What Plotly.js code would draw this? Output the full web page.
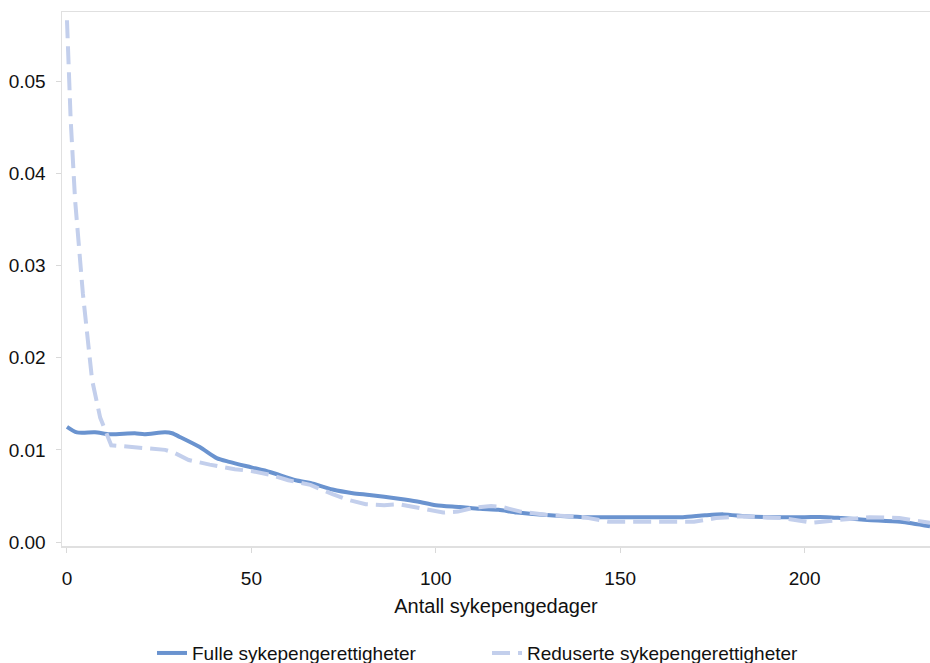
<!DOCTYPE html>
<html>
<head>
<meta charset="utf-8">
<script src="https://cdn.plot.ly/plotly-3.0.1.min.js"></script>
<style>html,body{margin:0;padding:0;background:#fff;}#chart{width:930px;height:663px;}</style>
</head>
<body>
<div id="chart"></div>
<script>
const seriesNames = ["Fulle sykepengerettigheter", "Reduserte sykepengerettigheter"];
const fullDays = [0, 2.7, 7.6, 11.7, 18.4, 21, 26.6, 28.5, 30.6, 36, 40.6, 44, 50, 55, 62, 66, 72, 77.5, 82, 90, 95, 100, 106.5, 112, 117, 122, 131, 140, 150, 161, 167, 173, 178, 184, 190, 200, 206, 210, 217, 226, 234];
const fullValues = [0.0125, 0.0119, 0.0119, 0.0117, 0.0118, 0.0117, 0.0119, 0.0118, 0.0114, 0.0103, 0.0091, 0.0087, 0.0081, 0.0076, 0.0067, 0.0064, 0.0057, 0.0053, 0.0051, 0.0047, 0.0044, 0.0040, 0.0038, 0.0036, 0.0035, 0.0032, 0.0029, 0.0027, 0.0027, 0.0027, 0.0027, 0.0029, 0.0030, 0.0028, 0.0027, 0.0027, 0.0027, 0.0026, 0.0024, 0.0022, 0.0017];
const redDays = [0, 1, 2.2, 4.3, 6.8, 9, 12, 15.7, 22.5, 26.6, 29, 33, 38.7, 45.5, 50, 55, 60, 66, 72, 76, 81, 86, 90, 95, 102, 106, 110, 115, 118, 123, 131, 140, 147, 153, 170, 176, 183, 194, 202, 209.5, 217.6, 225.7, 234];
const redValues = [0.0566, 0.0458, 0.0371, 0.027, 0.0176, 0.0135, 0.0105, 0.0104, 0.0102, 0.0100, 0.0097, 0.0089, 0.0084, 0.0079, 0.0077, 0.0073, 0.0067, 0.0062, 0.0052, 0.0046, 0.0041, 0.0040, 0.0041, 0.0037, 0.0032, 0.0033, 0.0037, 0.0039, 0.0038, 0.0033, 0.0029, 0.0027, 0.0022, 0.0022, 0.0022, 0.0026, 0.0028, 0.0026, 0.0021, 0.0024, 0.0027, 0.0026, 0.0021];
const xTicks = [0, 50, 100, 150, 200];
const yTicks = [0, 0.01, 0.02, 0.03, 0.04, 0.05];
const yTickLabels = ["0.00", "0.01", "0.02", "0.03", "0.04", "0.05"];
const xTitle = "Antall sykepengedager";

const traces = [
  {x: fullDays, y: fullValues, name: seriesNames[0], type: "scatter", mode: "lines",
   line: {color: "#6a93cf", width: 4, shape: "spline", smoothing: 0.7}},
  {x: redDays, y: redValues, name: seriesNames[1], type: "scatter", mode: "lines",
   line: {color: "#c3cfec", width: 4, dash: "18px,8px"}}
];
const fontFam = "Liberation Sans, Arial, sans-serif";
const axisCommon = {showline: true, linecolor: "#e0e0e0", linewidth: 1.5, mirror: true,
  ticks: "outside", ticklen: 5, tickcolor: "#d9d9d9", tickwidth: 1, showgrid: false, zeroline: false,
  automargin: false, tickfont: {family: fontFam, size: 19, color: "#111"}};
const layout = {
  width: 930, height: 663,
  margin: {l: 62, r: 0, t: 12, b: 117, autoexpand: false},
  paper_bgcolor: "#fff", plot_bgcolor: "#fff",
  font: {family: fontFam, size: 19, color: "#111"},
  xaxis: Object.assign({}, axisCommon, {range: [-1.35, 234], tickvals: xTicks, ticklabelstandoff: 10,
    title: {text: xTitle, font: {size: 20, color: "#111"}, standoff: 10}}),
  yaxis: Object.assign({}, axisCommon, {range: [-0.00043, 0.0575], tickvals: yTicks, ticktext: yTickLabels, ticklabelstandoff: 6}),
  showlegend: true,
  legend: {orientation: "h", x: 0.1037, xanchor: "left", y: -0.165, yanchor: "top",
    font: {size: 19, color: "#111"}, entrywidth: 290, entrywidthmode: "pixels", traceorder: "normal"}
};
Plotly.newPlot("chart", traces, layout, {displayModeBar: false, staticPlot: true});
</script>
</body>
</html>
